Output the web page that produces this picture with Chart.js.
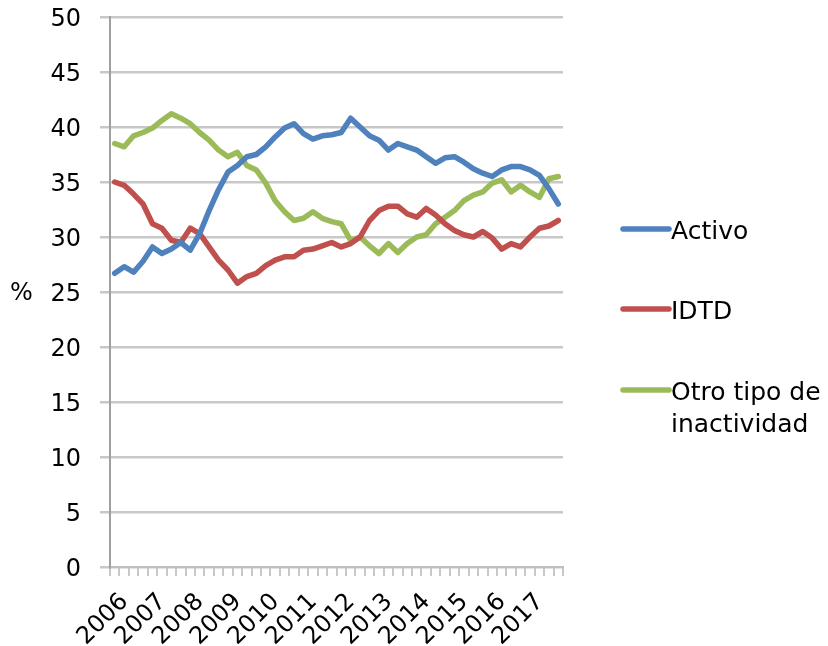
<!DOCTYPE html>
<html>
<head>
<meta charset="utf-8">
<script src="https://cdn.jsdelivr.net/npm/chart.js@4"></script>
<style>
  html, body { margin: 0; padding: 0; background: #fff; }
  canvas { display: block; }
</style>
</head>
<body>
<canvas id="c" width="828" height="646"></canvas>
<script>
// ---- data ----
const years = ['2006','2007','2008','2009','2010','2011','2012','2013','2014','2015','2016','2017'];
const categories = [];
years.forEach(y => { categories.push(y); categories.push('', '', ''); });

const seriesNames = [['Activo'], ['IDTD'], ['Otro tipo de', 'inactividad']];
const seriesColors = ['#4F81BD', '#C0504D', '#9BBB59'];

const activo = [26.7,27.3,26.8,27.8,29.1,28.5,28.9,29.5,28.8,30.3,32.4,34.3,
                35.9,36.5,37.3,37.5,38.2,39.1,39.9,40.3,39.4,38.9,39.2,39.3,
                39.5,40.8,40.0,39.2,38.8,37.9,38.5,38.2,37.9,37.3,36.7,37.2,
                37.3,36.8,36.2,35.8,35.5,36.1,36.4,36.4,36.1,35.6,34.4,33.0];
const idtd   = [35.0,34.7,33.9,33.0,31.2,30.8,29.7,29.5,30.8,30.3,29.1,27.9,
                27.0,25.8,26.4,26.7,27.4,27.9,28.2,28.2,28.8,28.9,29.2,29.5,
                29.1,29.4,30.0,31.5,32.4,32.8,32.8,32.1,31.8,32.6,32.0,31.2,
                30.6,30.2,30.0,30.5,29.9,28.9,29.4,29.1,30.0,30.8,31.0,31.5];
const otro   = [38.5,38.2,39.2,39.5,39.9,40.6,41.2,40.8,40.3,39.5,38.8,37.9,
                37.3,37.7,36.5,36.1,34.9,33.3,32.3,31.5,31.7,32.3,31.7,31.4,
                31.2,29.7,30.0,29.2,28.5,29.4,28.6,29.4,30.0,30.2,31.2,31.8,
                32.4,33.3,33.8,34.1,34.9,35.2,34.1,34.7,34.1,33.6,35.3,35.5];
const yTicks = [0,5,10,15,20,25,30,35,40,45,50];
const yUnit = '%';

const FONT = 'DejaVu Sans';
const FS = 24;

const customDecor = {
  id: 'customDecor',
  afterDraw(chart) {
    const ctx = chart.ctx;
    const xs = chart.scales.x;
    ctx.save();
    // rotated x labels
    ctx.fillStyle = '#000';
    ctx.font = FS + 'px "' + FONT + '"';
    ctx.textAlign = 'right';
    ctx.textBaseline = 'middle';
    chart.data.labels.forEach((lab, i) => {
      if (!lab) return;
      const px = xs.getPixelForValue(i);
      ctx.save();
      ctx.translate(px + 10, xs.top + 31);
      ctx.rotate(-Math.PI / 4);
      ctx.fillText(lab, 0, 0);
      ctx.restore();
    });
    // legend
    const ys = [229, 309, 390];
    chart.data.datasets.forEach((ds, i) => {
      const y = ys[i];
      ctx.strokeStyle = ds.borderColor;
      ctx.lineWidth = 5.5;
      ctx.lineCap = 'round';
      ctx.beginPath();
      ctx.moveTo(623, y);
      ctx.lineTo(669, y);
      ctx.stroke();
      ctx.fillStyle = '#000';
      ctx.font = '25px "' + FONT + '"';
      ctx.textBaseline = 'middle';
      ctx.textAlign = 'left';
      seriesNames[i].forEach((t, k) => ctx.fillText(t, 671, y + 3 + k * 32));
    });
    ctx.font = FS + 'px "' + FONT + '"';
    ctx.fillText(yUnit, 10, 294);
    ctx.restore();
  }
};

const mk = (name, data, color) => ({
  label: name.join(' '),
  data,
  borderColor: color,
  backgroundColor: color,
  borderWidth: 5.5,
  pointRadius: 0,
  tension: 0,
  borderJoinStyle: 'round',
  borderCapStyle: 'round',
  fill: false
});

new Chart(document.getElementById('c'), {
  type: 'line',
  data: {
    labels: categories,
    datasets: [
      mk(seriesNames[0], activo, seriesColors[0]),
      mk(seriesNames[1], idtd, seriesColors[1]),
      mk(seriesNames[2], otro, seriesColors[2])
    ]
  },
  options: {
    responsive: false,
    animation: false,
    layout: { padding: { top: 17, right: 265, left: 0, bottom: 0 } },
    plugins: { legend: { display: false }, tooltip: { enabled: false } },
    scales: {
      x: {
        offset: true,
        grid: { display: true, drawOnChartArea: false, offset: true, tickLength: 9, color: '#c8c8c8', lineWidth: 2 },
        border: { display: true, color: '#c0c0c0', width: 2 },
        ticks: { display: false, autoSkip: false },
        afterFit(s) { s.height = 79; s.paddingLeft = 0; s.paddingRight = 0; }
      },
      y: {
        min: 0, max: 50,
        afterBuildTicks(s) { s.ticks = yTicks.map(v => ({ value: v })); },
        grid: { color: '#c8c8c8', lineWidth: 2.5, tickLength: 10 },
        border: { display: true, color: '#a0a0a0', width: 2 },
        ticks: { color: '#000', font: { family: FONT, size: FS }, padding: 19, labelOffset: 3 },
        afterFit(s) { s.width = 110; s.paddingTop = 0; s.paddingBottom = 0; }
      }
    }
  },
  plugins: [customDecor]
});
</script>
</body>
</html>
